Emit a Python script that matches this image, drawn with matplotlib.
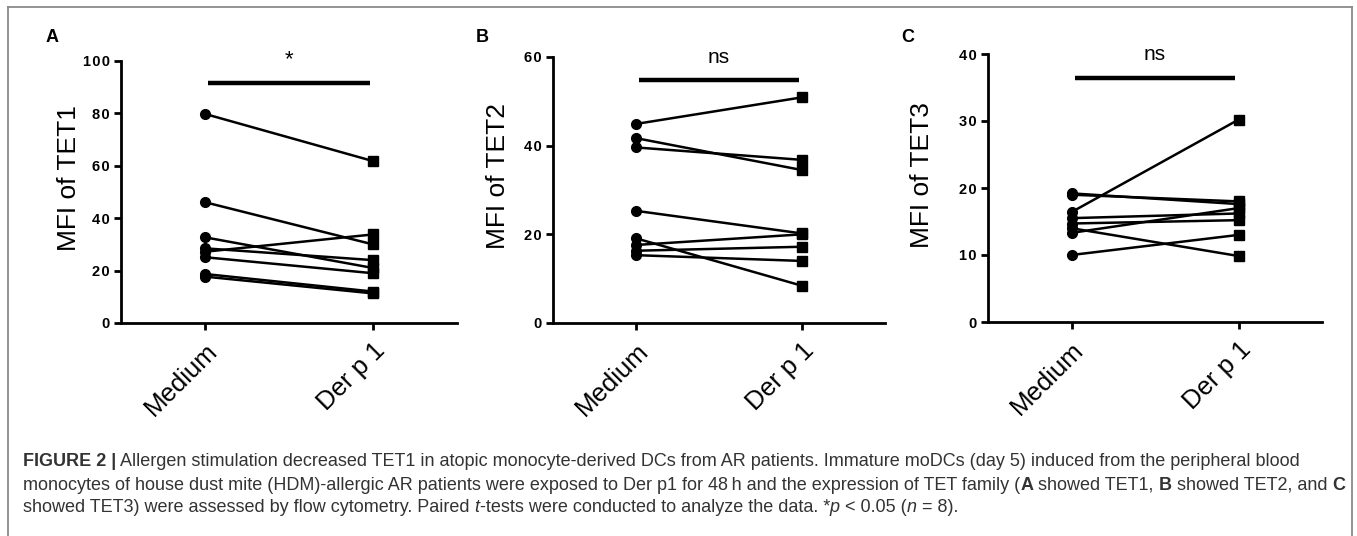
import matplotlib
matplotlib.use("Agg")
import matplotlib.pyplot as plt
from matplotlib import font_manager
from matplotlib.lines import Line2D

# ---------------- data ----------------
groups = ["Medium", "Der p 1"]

tet1_medium = [79.8, 46.1, 32.7, 28.5, 27.2, 25.1, 18.7, 17.7]
tet1_derp1 = [61.8, 30.0, 21.0, 24.0, 33.8, 19.0, 12.0, 11.3]

tet2_medium = [44.9, 41.7, 39.6, 25.3, 19.1, 17.6, 16.3, 15.3]
tet2_derp1 = [50.9, 34.5, 36.8, 20.2, 8.4, 20.0, 17.2, 14.0]

tet3_medium = [19.2, 19.0, 16.4, 15.5, 14.7, 14.0, 13.3, 10.0]
tet3_derp1 = [17.6, 18.0, 30.2, 16.2, 15.2, 9.85, 17.0, 13.0]

ylabels = ["MFI of TET1", "MFI of TET2", "MFI of TET3"]
panel_letters = ["A", "B", "C"]
ymaxes = [100, 60, 40]
yticks = [[0, 20, 40, 60, 80, 100], [0, 20, 40, 60], [0, 10, 20, 30, 40]]
sig_labels = ["*", "ns", "ns"]
sig_bar_y = [91.6, 54.8, 36.4]
sig_text_y = [96.5, 57.8, 38.5]

caption_lines = [
    [("FIGURE 2 |", "bold"), (" Allergen stimulation decreased TET1 in atopic monocyte-derived DCs from AR patients. Immature moDCs (day 5) induced from the peripheral blood", "normal")],
    [("monocytes of house dust mite (HDM)-allergic AR patients were exposed to Der p1 for 48\u2009h and the expression of TET family (", "normal"),
     ("A", "bold"), (" showed TET1, ", "normal"), ("B", "bold"), (" showed TET2, and ", "normal"), ("C", "bold")],
    [("showed TET3) were assessed by flow cytometry. Paired ", "normal"), ("t", "italic"),
     ("-tests were conducted to analyze the data. *", "normal"), ("p", "italic"), (" < 0.05 (", "normal"),
     ("n", "italic"), (" = 8).", "normal")],
]

# ---------------- fonts ----------------
names = {f.name for f in font_manager.fontManager.ttflist}
sans = "Liberation Sans" if "Liberation Sans" in names else "DejaVu Sans"
narrow = "Liberation Sans Narrow" if "Liberation Sans Narrow" in names else sans
plt.rcParams["font.family"] = [sans, "DejaVu Sans"]

W, H = 1357, 536
fig = plt.figure(figsize=(W / 100, H / 100), dpi=100)

axes_px = [(121, 457, 61, 323), (553, 885, 57, 323), (988, 1322, 54, 322)]
letter_px = [(46, 38), (476, 38), (901, 38)]
ylabel_x_px = [81, 510, 934]
ylabel_y_px = [178, 176, 175]

data = [(tet1_medium, tet1_derp1), (tet2_medium, tet2_derp1), (tet3_medium, tet3_derp1)]

for i, (l, r, t, b) in enumerate(axes_px):
    ax = fig.add_axes([l / W, 1 - b / H, (r - l) / W, (b - t) / H])
    med, der = data[i]
    for a, d in zip(med, der):
        ax.plot([0, 1], [a, d], color="black", lw=1.8, solid_capstyle="butt", zorder=2)
    ax.plot([0] * len(med), med, "o", color="black", ms=7, zorder=3, clip_on=False)
    ax.plot([1] * len(der), der, "s", color="black", ms=6.8, zorder=3, clip_on=False)
    ax.set_xlim(-0.5, 1.5)
    ax.set_ylim(0, ymaxes[i])
    ax.set_yticks(yticks[i])
    ax.set_yticklabels(["\u200a".join(str(v)) for v in yticks[i]],
                       fontfamily=[narrow, "DejaVu Sans"], fontweight="bold", fontsize=10.5)
    ax.set_xticks([0, 1])
    ax.set_xticklabels(groups, rotation=45, ha="right", rotation_mode="anchor", fontsize=18.5)
    ax.set_ylabel(ylabels[i], fontsize=19)
    ax.yaxis.set_label_coords((ylabel_x_px[i] - l) / (r - l), (b - ylabel_y_px[i]) / (b - t))
    for s in ["top", "right"]:
        ax.spines[s].set_visible(False)
    for s in ["left", "bottom"]:
        ax.spines[s].set_linewidth(2.0)
    ax.tick_params(axis="both", width=2.0, length=5, direction="out", pad=3)
    ax.tick_params(axis="x", pad=6)
    # significance bar
    ax.plot([0.02, 0.98], [sig_bar_y[i], sig_bar_y[i]], color="black", lw=3.2,
            solid_capstyle="butt", clip_on=False)
    ax.text(0.5, sig_text_y[i], sig_labels[i], ha="center", va="bottom",
            fontsize=16 if sig_labels[i] == "*" else 15, clip_on=False)
    lx, ly = letter_px[i]
    fig.text(lx / W, 1 - ly / H, panel_letters[i], fontsize=13, fontweight="bold",
             ha="left", va="center")

# frame lines (left, top, right)
frame_col = "#8a8a8a"
fig.add_artist(Line2D([8 / W, 8 / W], [0, 1 - 7 / H], color=frame_col, lw=1.3))
fig.add_artist(Line2D([8 / W, 1352 / W], [1 - 7 / H, 1 - 7 / H], color=frame_col, lw=1.3))
fig.add_artist(Line2D([1352 / W, 1352 / W], [0, 1 - 7 / H], color=frame_col, lw=1.3))

# ---------------- caption ----------------
renderer = fig.canvas.get_renderer()
cap_color = "#333333"


def seg_props(style, size):
    p = dict(fontsize=size, color=cap_color, family=[sans, "DejaVu Sans"])
    if style == "bold":
        p["fontweight"] = "bold"
    elif style == "italic":
        p["fontstyle"] = "italic"
    return p


def measure(line, size):
    total = 0
    for txt, st in line:
        tt = fig.text(0, 0, txt, **seg_props(st, size))
        total += tt.get_window_extent(renderer).width
        tt.remove()
    return total


base = 12.0
w1 = measure(caption_lines[0], base)
cap_size = base * (1300 - 23) / w1

cap_y = [462, 485, 508]
for line, yy in zip(caption_lines, cap_y):
    x = 23
    for txt, st in line:
        tt = fig.text(x / W, 1 - yy / H, txt, ha="left", va="center", **seg_props(st, cap_size))
        x += tt.get_window_extent(renderer).width

fig.savefig("out.png", dpi=100)
